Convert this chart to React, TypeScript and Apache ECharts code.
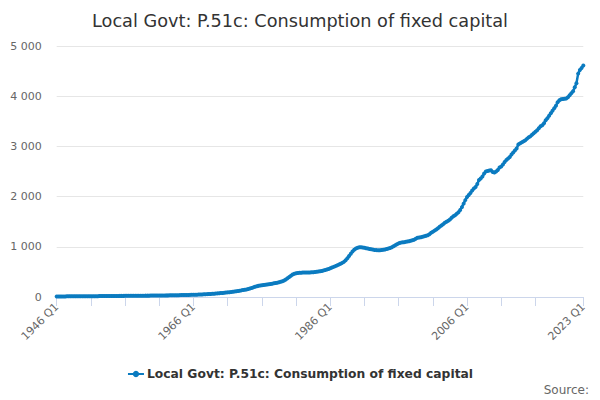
import React, { useEffect, useRef } from "react";
import * as echarts from "echarts";

const TITLE = "Local Govt: P.51c: Consumption of fixed capital";
const SERIES_NAME = "Local Govt: P.51c: Consumption of fixed capital";
const START_YEAR = 1946;

// Quarterly values, 1946 Q1 .. 2023 Q1
const values: number[] = [
  11, 11, 12, 12, // 1946
  12, 12, 13, 13, // 1947
  13, 13, 14, 14, // 1948
  14, 14, 15, 15, // 1949
  15, 15, 16, 16, // 1950
  16, 16, 17, 17, // 1951
  17, 18, 18, 18, // 1952
  19, 19, 19, 20, // 1953
  20, 20, 21, 21, // 1954
  21, 22, 22, 22, // 1955
  23, 23, 23, 24, // 1956
  24, 24, 25, 25, // 1957
  25, 26, 26, 26, // 1958
  27, 27, 27, 28, // 1959
  28, 28, 29, 29, // 1960
  30, 30, 31, 31, // 1961
  32, 32, 33, 33, // 1962
  34, 35, 35, 36, // 1963
  37, 38, 38, 39, // 1964
  40, 41, 42, 43, // 1965
  44, 45, 46, 48, // 1966
  49, 51, 53, 55, // 1967
  57, 59, 61, 63, // 1968
  66, 69, 72, 75, // 1969
  78, 81, 84, 88, // 1970
  92, 96, 100, 105, // 1971
  110, 115, 120, 126, // 1972
  132, 138, 144, 150, // 1973
  158, 168, 180, 192, // 1974
  204, 214, 222, 229, // 1975
  235, 240, 245, 250, // 1976
  255, 260, 266, 272, // 1977
  278, 285, 293, 302, // 1978
  312, 328, 348, 372, // 1979
  400, 425, 448, 463, // 1980
  472, 478, 482, 485, // 1981
  486, 487, 488, 489, // 1982
  490, 492, 494, 497, // 1983
  501, 506, 512, 519, // 1984
  527, 536, 546, 558, // 1985
  572, 586, 600, 615, // 1986
  630, 645, 662, 680, // 1987
  700, 730, 770, 815, // 1988
  860, 905, 940, 965, // 1989
  980, 990, 992, 988, // 1990
  980, 972, 965, 958, // 1991
  950, 944, 938, 934, // 1992
  932, 932, 935, 940, // 1993
  946, 955, 965, 978, // 1994
  992, 1010, 1030, 1050, // 1995
  1068, 1080, 1088, 1092, // 1996
  1098, 1104, 1110, 1120, // 1997
  1130, 1140, 1160, 1180, // 1998
  1185, 1192, 1200, 1210, // 1999
  1218, 1230, 1250, 1280, // 2000
  1300, 1322, 1345, 1370, // 2001
  1400, 1425, 1450, 1480, // 2002
  1500, 1520, 1545, 1580, // 2003
  1610, 1630, 1660, 1690, // 2004
  1735, 1790, 1860, 1930, // 2005
  1990, 2030, 2070, 2120, // 2006
  2160, 2190, 2250, 2330, // 2007
  2360, 2400, 2460, 2500, // 2008
  2510, 2520, 2525, 2490, // 2009
  2480, 2500, 2530, 2580, // 2010
  2600, 2640, 2690, 2730, // 2011
  2760, 2790, 2840, 2880, // 2012
  2920, 2960, 3040, 3060, // 2013
  3080, 3100, 3120, 3150, // 2014
  3180, 3200, 3230, 3260, // 2015
  3290, 3320, 3360, 3400, // 2016
  3420, 3460, 3520, 3560, // 2017
  3610, 3660, 3710, 3760, // 2018
  3810, 3880, 3920, 3940, // 2019
  3945, 3950, 3955, 3980, // 2020
  4020, 4060, 4100, 4180, // 2021
  4260, 4450, 4520, 4560, // 2022
  4610, // 2023 Q1
];

const categories: string[] = values.map(
  (_, i) => `${START_YEAR + Math.floor(i / 4)} Q${(i % 4) + 1}`
);

const yTicks = [0, 1000, 2000, 3000, 4000, 5000];

const LINE_COLOR = "#0b7bc0";

function fmt(v: number): string {
  return String(v).replace(/\B(?=(\d{3})+(?!\d))/g, " ");
}

export default function App() {
  const ref = useRef<HTMLDivElement>(null);
  useEffect(() => {
    if (!ref.current) return;
    document.body.style.margin = "0";
    const chart = echarts.init(ref.current, undefined, { renderer: "svg" });
    const last = categories.length - 1;
    chart.setOption({
      animation: false,
      backgroundColor: "#ffffff",
      title: {
        text: TITLE,
        left: "center",
        top: 7,
        textStyle: {
          fontFamily: "DejaVu Sans",
          fontSize: 17.7,
          fontWeight: "normal",
          color: "#333333",
        },
      },
      legend: {
        bottom: 15,
        left: "center",
        itemWidth: 16,
        itemHeight: 8,
        itemGap: 8,
        textStyle: {
          fontFamily: "DejaVu Sans",
          fontSize: 12.3,
          fontWeight: "bold",
          color: "#333333",
          padding: [0, 0, 0, -2],
        },
        data: [SERIES_NAME],
      },
      graphic: [
        {
          type: "text",
          right: 11,
          bottom: 4,
          style: {
            text: "Source:",
            fontFamily: "DejaVu Sans",
            fontSize: 12,
            fill: "#666666",
          },
        },
      ],
      grid: {
        left: 56.7,
        right: 16.7,
        top: 46,
        bottom: 103,
        containLabel: false,
      },
      xAxis: {
        type: "category",
        data: categories,
        boundaryGap: false,
        axisLine: { lineStyle: { color: "#ccd6eb", width: 1 } },
        axisTick: {
          show: true,
          length: 9,
          lineStyle: { color: "#ccd6eb" },
          interval: (index: number) =>
            (index % 20 === 0 && index <= last - 20) || index === last,
        },
        axisLabel: {
          rotate: 45,
          margin: 8,
          fontFamily: "DejaVu Sans",
          fontSize: 11,
          color: "#666666",
          interval: (index: number) => index % 80 === 0 || index === last,
        },
        splitLine: { show: false },
      },
      yAxis: {
        type: "value",
        min: yTicks[0],
        max: yTicks[yTicks.length - 1],
        interval: 1000,
        axisLine: { show: false },
        axisTick: { show: false },
        axisLabel: {
          fontFamily: "DejaVu Sans",
          fontSize: 11,
          color: "#666666",
          margin: 15,
          formatter: (v: number) => fmt(v),
        },
        splitLine: { lineStyle: { color: "#e6e6e6", width: 1 } },
      },
      series: [
        {
          name: SERIES_NAME,
          type: "line",
          data: values,
          showSymbol: true,
          showAllSymbol: true,
          symbol: "circle",
          symbolSize: 4,
          itemStyle: { color: LINE_COLOR },
          lineStyle: { color: LINE_COLOR, width: 2.5 },
        },
      ],
    });
    return () => chart.dispose();
  }, []);
  return (
    <div
      ref={ref}
      style={{ position: "fixed", left: 0, top: 0, width: 600, height: 400 }}
    />
  );
}
